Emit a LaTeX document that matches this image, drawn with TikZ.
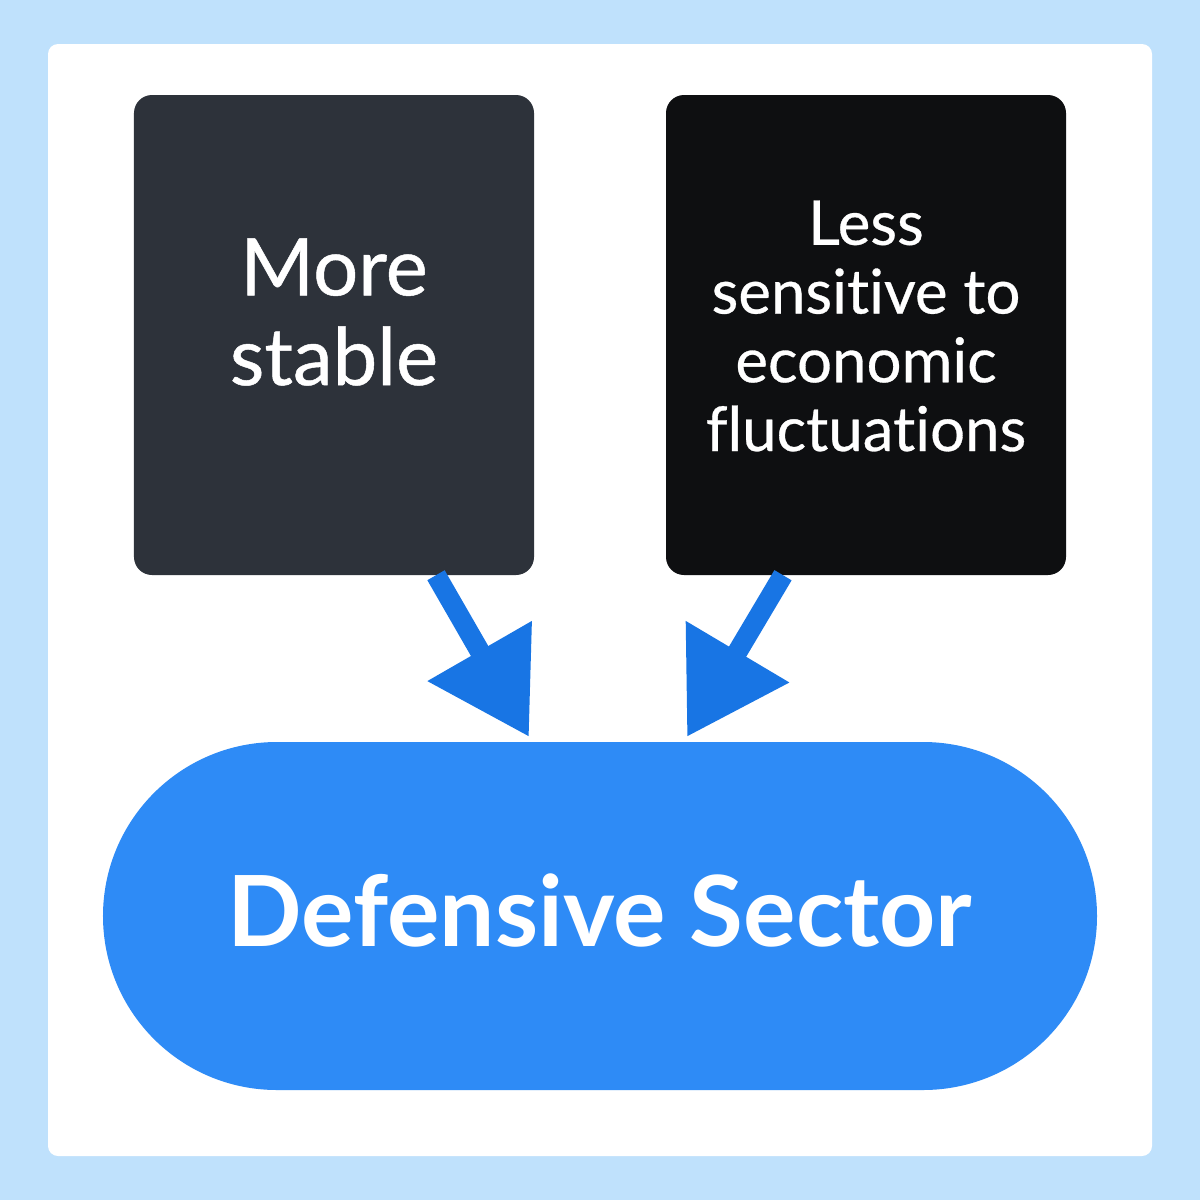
\documentclass[tikz,border=0pt]{standalone}
\usepackage{fontspec}
\setmainfont{Lato}[Ligatures=NoCommon]
\usetikzlibrary{arrows.meta}
\definecolor{bgblue}{RGB}{191,225,252}
\definecolor{boxA}{RGB}{45,50,58}
\definecolor{boxB}{RGB}{14,15,17}
\definecolor{arrblue}{RGB}{24,117,228}
\definecolor{secblue}{RGB}{46,139,246}
\tikzset{
  card/.style={fill=white, draw=none, rounded corners=10bp},
  darkbox/.style={draw=none, rounded corners=18bp, minimum width=400bp, minimum height=480bp, inner sep=0pt},
  boxtext/.style={text=white, align=center, inner sep=0pt},
  sector/.style={fill=secblue, draw=none, rounded corners=174bp, minimum width=994bp, minimum height=348bp, text=white, inner sep=0pt},
  arr/.style={draw=arrblue, line width=20bp, -{Triangle[length=99bp,width=115bp]}, fill=arrblue}
}
\begin{document}
\begin{tikzpicture}[x=1bp,y=-1bp]
\fill[bgblue] (0,0) rectangle (1200,1200);
\useasboundingbox (0,0) rectangle (1200,1200);
\fill[card] (48,44) rectangle (1152,1156);
\node[darkbox, fill=boxA] (A) at (334,335) {};
\node[darkbox, fill=boxB] (B) at (866,335) {};
\node[boxtext, font={\fontsize{80}{90}\selectfont\addfontfeature{FakeBold=0.6}}] (At) at (334,312) {More\\stable};
\node[boxtext, font={\fontsize{62}{69}\selectfont\addfontfeature{FakeBold=0.5}}] (Bt) at (866,326) {Less\\sensitive to\\economic\\fluctuations};
\node[sector] (S) at (600,916) {};
\node[text=white, inner sep=0pt, font={\fontsize{98.5}{110}\selectfont\bfseries}] (St) at (600,910) {Defensive Sector};
\draw[arr] ([xshift=102bp]A.south) -- ([xshift=-71bp,yshift=5bp]S.north);
\draw[arr] ([xshift=-83bp]B.south) -- ([xshift=87bp,yshift=5bp]S.north);
\end{tikzpicture}
\end{document}
